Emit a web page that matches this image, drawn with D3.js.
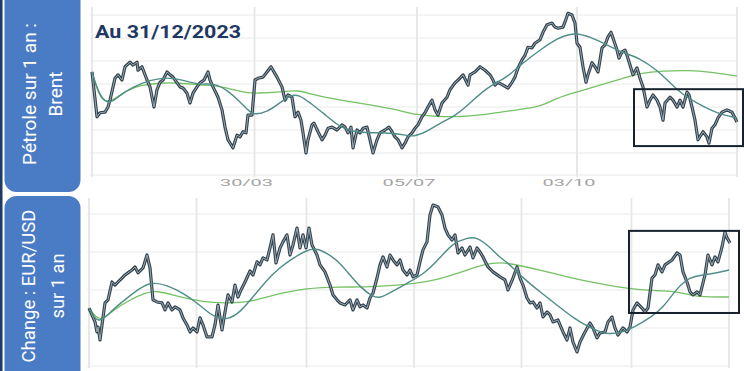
<!DOCTYPE html>
<html>
<head>
<meta charset="utf-8">
<script src="https://cdn.jsdelivr.net/npm/d3@7"></script>
<style>
body { margin: 0; background: #fff; }
svg { display: block; font-family: Roboto, "Liberation Sans", sans-serif; }
</style>
</head>
<body>
<div id="chart"></div>
<script>

// brent, trading day index over 2023
var brentDay = [0,2,3.2,5.2,6.4,7.2,9.2,10.4,12,13.2,15.2,16.4,18,18.4,20,22,23.2,24.8,26,27.2,28.4,30,31.2,32.4,35.2,36.4,38,39.2,40.4,42,43.2,44.8,46.4,47.2,48.4,50.4,52,53.2,54.4,56.4,58,59.2,60.4,61.6,62.4,64,65.2,66.4,68.4,70,71.6,72.4,74,76,77.2,78.4,80,81.2,82.4,83.6,84.4,85.6,86.4,88,88.8,90.4,92,93.2,94.4,96,98,100,101.2,102.4,103.6,104.4,106,107.2,108.4,110,111.2,112.4,114,115.2,117.2,118.8,120,121.2,122.4,124,125.2,126.4,128,129.2,130.4,132,133.2,134.4,136,137.2,138.4,140,142,143.2,145.2,147.2,148.4,150.4,151.2,153.2,155.2,157.2,159.2,160.4,161.2,162.4,164.4,166.4,168,169.2,170.4,172,173.2,174.4,176,177.2,179.2,180.4,182,184,185.2,186.4,188.4,189.2,190.4,192,193.2,194,195.2,196.4,197.6,198.4,200,201.2,202.4,204,205.2,206.4,207.6,208.4,210,210.8,212,213.2,214,215.2,216.4,218,219.2,220.4,222,223.2,224.4,226,227.2,228.4,229.2,231.2,232.4,234,235.2,236.4,238,238.8,240,241.2,242.4,244.4,246,246.8,248,249.2,250.4,252,254,256,258];
var brentPrice = [86.1,78.3,79.0,79.1,80.0,81.2,85.0,85.6,84.7,87.0,87.8,87.3,87.8,86.4,87.0,84.7,83.5,80.0,83.0,84.3,84.7,86.1,85.6,85.2,83.5,83.3,82.4,80.7,82.4,83.5,84.2,84.7,86.1,84.7,83.5,81.7,79.5,76.5,74.3,72.9,75.1,74.8,75.7,75.5,78.6,78.6,84.7,85.0,85.2,86.1,87.0,86.4,85.2,83.5,81.2,82.1,81.7,78.3,79.1,77.7,75.5,72.0,74.3,76.9,77.2,75.7,74.3,75.1,76.3,76.5,76.0,76.9,76.5,75.5,76.5,72.9,76.0,75.5,76.3,76.5,74.3,72.0,74.3,75.5,76.0,76.5,75.7,74.8,74.3,72.9,73.7,74.8,75.5,76.3,76.9,78.3,79.0,80.0,81.2,79.5,78.6,80.7,81.7,83.0,84.2,85.0,85.6,83.8,85.6,86.1,87.0,86.4,85.6,84.7,83.8,84.3,83.8,83.3,84.3,85.2,86.8,88.2,89.0,90.4,90.3,91.1,91.7,93.0,94.3,94.6,93.9,93.7,93.9,94.8,96.3,96.0,94.6,91.1,90.4,87.0,84.3,85.6,87.7,87.0,86.1,90.3,90.8,92.2,93.0,92.0,89.9,88.5,89.6,89.9,89.0,87.3,85.6,86.8,85.0,83.5,80.0,81.2,82.1,81.2,80.0,77.7,80.7,81.7,81.2,80.0,81.2,80.0,82.6,82.1,80.0,77.7,74.3,75.7,74.8,73.7,76.3,76.9,78.1,79.1,79.5,79.1,77.4];
var brentMa1Day = [0,3.2,7.2,10,16.4,23.2,30,36.4,43.2,48.4,54,59.2,62.4,64.4,70,75.2,79.2,83.2,87.2,92.4,98,103.2,112.4,119.2,126,128.4,134,139.2,146,152.4,158,162,166,172.4,179.2,186,193.2,199.2,206,212.4,219.2,226,231.2,236.4,242,247.2,252.4,258];
var brentMa1 = [86.1,81.6,80.5,81.7,83.5,84.7,85.2,84.7,83.8,84.2,83.0,80.9,79.5,78.6,79.1,80.7,82.1,82.1,80.7,79.0,76.9,75.7,75.5,75.5,75.1,74.8,75.7,77.2,78.6,81.2,83.3,84.3,85.2,87.7,89.9,92.0,93.0,92.2,90.8,89.4,88.5,86.4,84.2,82.1,80.7,79.5,78.6,78.1];
var brentMa2Day = [0,3.2,7.2,14,19.2,27.2,35.2,43.2,48.4,54,62.4,66,75.2,82.4,88.4,99.2,112.4,122,130,139.2,147.2,155.2,163.2,170,179.2,186,194,203.2,212.4,219.2,228.4,239.2,247.2,258];
var brentMa2 = [86.1,81.2,80.7,83.0,83.8,84.2,84.2,83.8,83.8,83.3,82.4,82.4,82.6,83.0,82.1,81.2,80.3,79.5,78.6,78.3,78.3,78.6,79.1,79.5,80.0,81.6,82.6,83.8,85.0,85.9,86.3,86.4,86.1,85.4];
var brentGrid = [72, 76, 80, 84, 88, 92, 96];
var brentTickDay = [65, 130, 194];
var brentTickLabel = ['30/03', '05/07', '03/10'];
var brentBox = [216.8, 260.4, 73.2, 83.1];

// eur/usd
var eurDay = [0,2.4,3.2,3.6,4.4,5.2,6.4,7.6,9.2,10.4,11.6,13.2,14.4,15.6,17.2,18.4,19.6,21.6,23.2,24.4,25.6,27.2,29.2,30.4,31.6,33.2,34.4,36.4,37.6,39.2,40.4,41.6,43.2,44.4,45.6,47.2,49.2,50.4,51.6,53.2,54.4,55.6,57.2,58.4,59.6,60.8,62.4,64.4,65.6,67.2,68.4,69.6,71.2,72.4,73.6,74.8,76.4,77.6,79.2,80.4,81.6,83.2,84.4,85.6,86.8,88,89.2,91.2,92.4,94.4,96.4,97.6,99.2,100.4,102.4,104.4,105.6,107.2,108.4,109.6,111.2,112.4,113.6,115.2,116.4,117.6,119.2,120.4,121.6,123.2,124.4,125.6,127.2,128.4,129.6,131.2,132.4,133.6,135.2,136.4,137.6,139.6,141.2,142.4,143.6,145.2,146.4,147.6,149.2,150.4,152.4,153.6,155.2,156.4,157.6,159.6,161.6,164.4,166.4,167.6,169.6,171.2,172.4,173.6,175.2,176.4,177.6,179.2,180.4,181.6,183.2,184.4,185.6,187.6,189.6,191.2,192.4,193.6,195.2,196.4,198.4,200.4,201.6,203.2,204.4,206.4,207.6,209.2,210.4,211.6,213.6,215.2,216.4,217.6,219.2,221.2,222.4,223.6,225.2,226.4,227.6,229.2,230.4,233.2,235.2,236.4,237.6,239.2,240.4,241.6,243.2,244.4,246.4,247.6,249.2,250.4,251.6,253.2,254.4,255.2,256.4];
var eurRate = [1.0705,1.0632,1.0579,1.0605,1.0537,1.0616,1.0732,1.0748,1.0842,1.0826,1.0842,1.0863,1.0879,1.0890,1.0905,1.0921,1.0890,1.0916,1.0984,1.0916,1.0748,1.0737,1.0732,1.0695,1.0732,1.0695,1.0711,1.0695,1.0653,1.0616,1.0579,1.0600,1.0579,1.0653,1.0616,1.0553,1.0553,1.0616,1.0721,1.0590,1.0684,1.0774,1.0737,1.0826,1.0763,1.0800,1.0842,1.0900,1.0879,1.0948,1.0932,1.0969,1.0958,1.1021,1.1090,1.0942,1.1021,1.1053,1.1090,1.0984,1.1037,1.1126,1.1021,1.1090,1.1021,1.1126,1.1037,1.0984,1.0932,1.0895,1.0826,1.0774,1.0748,1.0732,1.0721,1.0748,1.0695,1.0748,1.0711,1.0721,1.0705,1.0758,1.0784,1.0863,1.0932,1.0974,1.0921,1.0984,1.0958,1.0932,1.0958,1.0905,1.0879,1.0905,1.0869,1.0879,1.0948,1.1011,1.1053,1.1195,1.1247,1.1237,1.1195,1.1126,1.1090,1.1063,1.1090,1.0995,1.1021,1.0984,1.1026,1.0969,1.1021,1.1000,1.0974,1.0921,1.0895,1.0869,1.0853,1.0800,1.0863,1.0921,1.0863,1.0826,1.0758,1.0732,1.0737,1.0705,1.0732,1.0658,1.0684,1.0669,1.0632,1.0642,1.0579,1.0537,1.0600,1.0526,1.0474,1.0526,1.0579,1.0626,1.0600,1.0548,1.0574,1.0579,1.0632,1.0658,1.0600,1.0563,1.0600,1.0579,1.0605,1.0695,1.0732,1.0705,1.0684,1.0705,1.0863,1.0879,1.0932,1.0895,1.0932,1.0958,1.0995,1.0984,1.0895,1.0842,1.0790,1.0774,1.0790,1.0774,1.0879,1.0984,1.0932,1.0974,1.0948,1.1026,1.1105,1.1074,1.1047];
var eurMa1Day = [0,3.6,8.4,15.2,20.4,25.2,31.2,37.6,44.4,49.6,55.2,60.4,67.2,73.6,80.4,87.2,91.2,96.4,100.4,104.4,108.4,113.6,116.4,120.4,127.2,133.6,140.4,145.6,151.2,155.2,160.4,164.4,167.2,173.6,180.4,187.2,193.6,200.4,207.2,213.6,217.6,224.4,229.6,235.2,240.4,245.6,251.2,256];
var eurMa1 = [1.0705,1.0616,1.0684,1.0758,1.0811,1.0842,1.0826,1.0784,1.0721,1.0658,1.0642,1.0679,1.0790,1.0890,1.0958,1.1011,1.1021,1.0984,1.0942,1.0879,1.0816,1.0763,1.0758,1.0784,1.0837,1.0879,1.0969,1.1047,1.1074,1.1079,1.1026,1.0969,1.0948,1.0863,1.0790,1.0721,1.0653,1.0600,1.0563,1.0579,1.0600,1.0653,1.0705,1.0811,1.0869,1.0879,1.0890,1.0905];
var eurMa2Day = [0,4.4,9.6,16.4,23.2,27.2,33.6,41.6,49.6,57.6,64.4,73.6,87.2,100.4,113.6,124.4,135.2,143.2,151.2,157.6,164.4,171.2,180.4,191.2,200.4,211.2,220.4,229.6,235.2,240.4,245.6,256];
var eurMa2 = [1.0705,1.0626,1.0695,1.0748,1.0790,1.0795,1.0774,1.0748,1.0732,1.0732,1.0737,1.0774,1.0811,1.0816,1.0816,1.0826,1.0842,1.0869,1.0905,1.0932,1.0948,1.0932,1.0905,1.0869,1.0842,1.0816,1.0800,1.0795,1.0790,1.0774,1.0763,1.0763];
var eurGrid = [1.06, 1.08, 1.10, 1.12];
var eurTickDay = [43, 87, 130, 173, 217];
var eurTickLabel = ['03/03', '05/05', '07/07', '07/09', '08/11'];
var eurBox = [216, 260, 1.0679, 1.1111];

var svg = d3.select('#chart')
    .append('svg')
    .attr('width', 744)
    .attr('height', 371);

svg.append('rect')
    .attr('width', 744)
    .attr('height', 371)
    .attr('fill', '#fff');

// navy stripe on the left edge
svg.append('rect')
    .attr('x', 0)
    .attr('y', 0)
    .attr('width', 2.5)
    .attr('height', 371)
    .attr('fill', '#1f3a60');

function zip(xs, ys) {
    return xs.map(function(d, i) { return [d, ys[i]]; });
}

function draw_label_box({y, height, lines, centerY, textX, textLen}) {
    svg.append('rect')
        .attr('x', 4.5)
        .attr('y', y)
        .attr('width', 76)
        .attr('height', height)
        .attr('rx', 12)
        .attr('ry', 12)
        .attr('fill', '#4a7cc6');

    lines.forEach(function(t, i) {
        svg.append('text')
            .attr('transform', 'translate(' + textX[i] + ',' + centerY + ') rotate(-90)')
            .attr('text-anchor', 'middle')
            .attr('fill', '#fff')
            .style('font-size', '18.5px')
            .attr('textLength', textLen[i])
            .attr('lengthAdjust', 'spacingAndGlyphs')
            .text(t);
    });
}

function draw_panel({x, y, grid, bottomVal, tickDay, tickLabel, labelY, labelShift, price, ma1, ma2, box}) {
    var g = svg.append('g');
    var xr = x.range(), yr = y.range();

    // horizontal grid
    g.selectAll('.hgrid')
        .data(grid.concat([bottomVal]))
        .enter()
        .append('line')
        .attr('x1', xr[0] - 2)
        .attr('x2', xr[1])
        .attr('y1', function(d) { return y(d); })
        .attr('y2', function(d) { return y(d); })
        .attr('stroke', '#e9e9e9')
        .attr('stroke-width', 1);

    // vertical grid
    g.selectAll('.vgrid')
        .data([x.domain()[0]].concat(tickDay, [x.domain()[1]]))
        .enter()
        .append('line')
        .attr('x1', function(d) { return x(d); })
        .attr('x2', function(d) { return x(d); })
        .attr('y1', yr[1])
        .attr('y2', yr[0] + 2)
        .attr('stroke', '#e6e6e6')
        .attr('stroke-width', 1.8);

    // tick labels
    g.selectAll('.tick')
        .data(tickDay)
        .enter()
        .append('text')
        .attr('x', function(d) { return x(d) + labelShift; })
        .attr('y', labelY)
        .attr('text-anchor', 'middle')
        .attr('fill', '#a3a3a3')
        .style('font-size', '9px')
        .attr('textLength', 53)
        .attr('lengthAdjust', 'spacingAndGlyphs')
        .text(function(d, i) { return tickLabel[i]; });

    var smooth = d3.line()
        .x(function(d) { return x(d[0]); })
        .y(function(d) { return y(d[1]); })
        .curve(d3.curveBasis);

    var sharp = d3.line()
        .x(function(d) { return x(d[0]); })
        .y(function(d) { return y(d[1]); });

    // long average
    g.append('path')
        .attr('d', smooth(ma2))
        .attr('fill', 'none')
        .attr('stroke', '#74c263')
        .attr('stroke-width', 1.3);

    // price, thick with a light core
    g.append('path')
        .attr('d', sharp(price))
        .attr('fill', 'none')
        .attr('stroke', '#33444f')
        .attr('stroke-width', 3.2)
        .attr('stroke-linejoin', 'round');

    g.append('path')
        .attr('d', sharp(price))
        .attr('fill', 'none')
        .attr('stroke', '#9aa8b2')
        .attr('stroke-width', 1)
        .attr('stroke-linejoin', 'round');

    // short average
    g.append('path')
        .attr('d', smooth(ma1))
        .attr('fill', 'none')
        .attr('stroke', '#4f8d88')
        .attr('stroke-width', 1.4);

    // highlight box
    g.append('rect')
        .attr('x', x(box[0]))
        .attr('y', y(box[3]))
        .attr('width', x(box[1]) - x(box[0]))
        .attr('height', y(box[2]) - y(box[3]))
        .attr('fill', 'none')
        .attr('stroke', '#17212e')
        .attr('stroke-width', 2);
}

var xTop = d3.scaleLinear().domain([0, 258]).range([92, 737]);
var yTop = d3.scaleLinear().domain([68.17, 97.4]).range([175, 7]);

draw_panel({
    x          : xTop,
    y          : yTop,
    grid       : brentGrid,
    bottomVal  : 68.17,
    tickDay    : brentTickDay,
    tickLabel  : brentTickLabel,
    labelY     : 186,
    labelShift : -8,
    price      : zip(brentDay, brentPrice),
    ma1        : zip(brentMa1Day, brentMa1),
    ma2        : zip(brentMa2Day, brentMa2),
    box        : brentBox
});

var xBot = d3.scaleLinear().domain([0, 256]).range([89, 729]);
var yBot = d3.scaleLinear().domain([1.04, 1.1284]).range([366, 198]);

draw_panel({
    x          : xBot,
    y          : yBot,
    grid       : eurGrid,
    bottomVal  : 1.04,
    tickDay    : eurTickDay,
    tickLabel  : eurTickLabel,
    labelY     : 378.5,
    labelShift : -10,
    price      : zip(eurDay, eurRate),
    ma1        : zip(eurMa1Day, eurMa1),
    ma2        : zip(eurMa2Day, eurMa2),
    box        : eurBox
});

// title
svg.append('text')
    .attr('x', 95)
    .attr('y', 38)
    .attr('fill', '#1f3864')
    .style('font-size', '18px')
    .style('font-weight', 'bold')
    .attr('textLength', 146)
    .attr('lengthAdjust', 'spacingAndGlyphs')
    .text('Au 31/12/2023');

draw_label_box({
    y       : -14,
    height  : 206,
    lines   : ['Pétrole sur 1 an :', 'Brent'],
    centerY : 94,
    textX   : [36, 61.5],
    textLen : [142, 45]
});

draw_label_box({
    y       : 196,
    height  : 190,
    lines   : ['Change : EUR/USD', 'sur 1 an'],
    centerY : 286,
    textX   : [35, 64],
    textLen : [153, 65]
});

</script>
</body>
</html>
